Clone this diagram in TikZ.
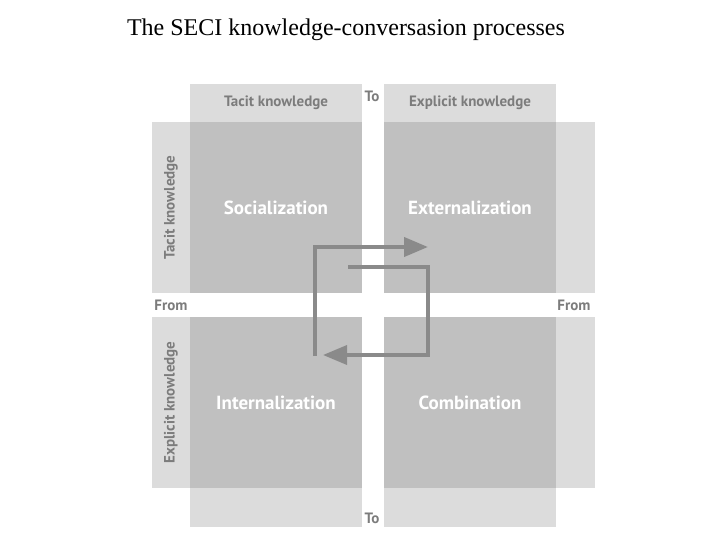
\documentclass[tikz,border=0pt]{standalone}
\usepackage{fontspec}
\setmainfont{Liberation Serif}
\setsansfont{PT Sans}
\usetikzlibrary{arrows.meta}

\definecolor{lightcell}{HTML}{DCDCDC}
\definecolor{darkcell}{HTML}{C0C0C0}
\definecolor{labelgray}{HTML}{7C7C7C}
\definecolor{flowgray}{HTML}{8A8A8A}

\begin{document}
\begin{tikzpicture}[x=1pt, y=-1pt, line join=miter]
  \tikzset{
    strip/.style={fill=lightcell, inner sep=0pt, minimum width=#1},
    cell/.style={fill=darkcell, inner sep=0pt, minimum width=172pt, minimum height=171pt,
      text=white, font=\sffamily\bfseries\fontsize{19}{21}\selectfont},
    head/.style={text=labelgray, font=\sffamily\bfseries\fontsize{15}{17}\selectfont},
    flow/.style={line width=#1, draw=flowgray, -{Triangle[length=24pt, width=19pt]}}
  }
  \useasboundingbox (0,0) rectangle (720,540);

  % titel
  \node (title) at (346,30) {\fontsize{24}{27}\selectfont The SECI knowledge-conversasion processes};

  % vier kwadranten
  \node[cell] (soc) at (276,207.5) {Socialization};
  \node[cell] (ext) at (470,207.5) {Externalization};
  \node[cell] (int) at (276,402.5) {Internalization};
  \node[cell] (com) at (470,402.5) {Combination};

  % randen boven en onder
  \node[strip=172pt, minimum height=38pt, head] (toptacit) at (276,103) {Tacit knowledge};
  \node[strip=172pt, minimum height=38pt, head] (topexpl) at (470,103) {Explicit knowledge};
  \node[strip=172pt, minimum height=39pt] (bottacit) at (276,507.5) {};
  \node[strip=172pt, minimum height=39pt] (botexpl) at (470,507.5) {};

  % randen links en rechts
  \node[strip=171pt, minimum height=38pt, rotate=90, head] (lefttacit) at (171,207.5) {Tacit knowledge};
  \node[strip=171pt, minimum height=38pt, rotate=90, head] (leftexpl) at (171,402.5) {Explicit knowledge};
  \node[strip=171pt, minimum height=39pt, rotate=90] (righttacit) at (575.5,207.5) {};
  \node[strip=171pt, minimum height=39pt, rotate=90] (rightexpl) at (575.5,402.5) {};

  % To / From
  \node[head] (totop) at (372,96) {To};
  \node[head] (tobot) at (372,518) {To};
  \node[head] (fromleft) at (171,305) {From};
  \node[head] (fromright) at (574,305) {From};

  % de spiraal
  \coordinate (a0) at (315,356);
  \coordinate (a1) at (315,247);
  \coordinate (a2) at (428,247);
  \coordinate (b0) at (348,267);
  \coordinate (b1) at (428,267);
  \coordinate (b2) at (428,355);
  \coordinate (b3) at (323,355);
  \draw[flow=4pt] (a0) -- (a1) -- (a2);
  \draw[flow=3.5pt] (b0) -- (b1) -- (b2) -- (b3);

\end{tikzpicture}
\end{document}
